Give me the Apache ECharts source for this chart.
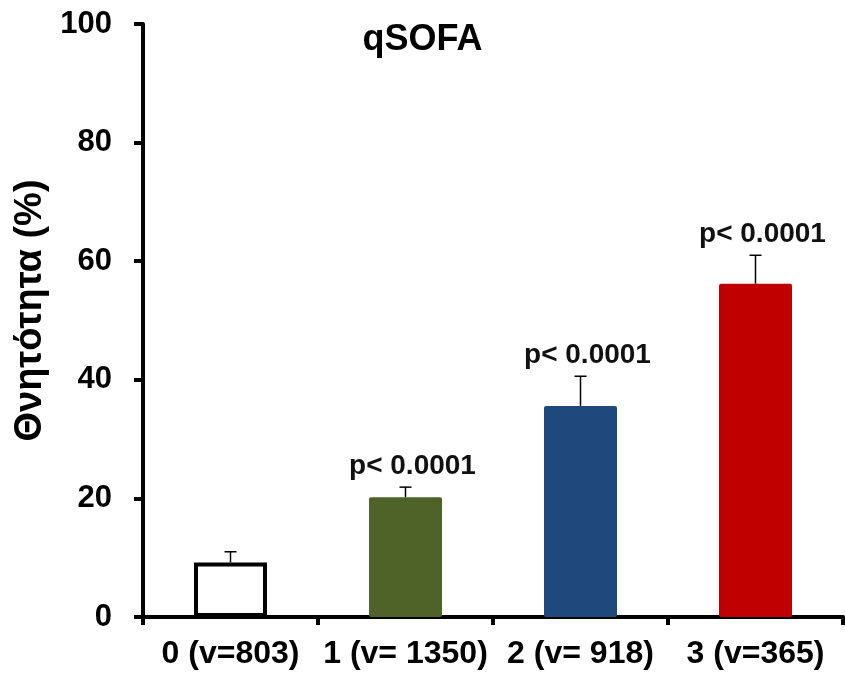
<!DOCTYPE html>
<html>
<head>
<meta charset="utf-8">
<script src="https://cdn.jsdelivr.net/npm/echarts@6/dist/echarts.min.js"></script>
<style>
html,body{margin:0;padding:0;background:#fff;}
#chart{width:845px;height:673px;}
</style>
</head>
<body>
<div id="chart"></div>
<script>
const categories = ['0 (v=803)', '1 (v= 1350)', '2 (v= 918)', '3 (v=365)'];
const mortality = [9.2, 20.2, 35.6, 56.2];
const errorUpper = [11.0, 21.9, 40.6, 61.0];
const pLabels = ['', 'p< 0.0001', 'p< 0.0001', 'p< 0.0001'];
const barColors = ['#FFFFFF', '#4F6228', '#1F497D', '#C00000'];
const titleText = 'qSOFA';
const yAxisName = 'Θνητότητα (%)';
const yMin = 0, yMax = 100, yStep = 20;

const FONT = '"Liberation Sans", Arial, sans-serif';
const chart = echarts.init(document.getElementById('chart'));

const barData = mortality.map((v, i) => ({
  value: v,
  itemStyle: {
    color: barColors[i],
    borderColor: i === 0 ? '#000' : barColors[i],
    borderWidth: i === 0 ? 4 : 0,
    borderRadius: i === 0 ? 0 : 2
  }
}));

const errData = mortality.map((v, i) => [i, v, errorUpper[i]]);

chart.setOption({
  animation: false,
  backgroundColor: '#fff',
  title: {
    text: titleText,
    left: 'center',
    top: 17,
    textStyle: { fontFamily: FONT, fontWeight: 'bold', fontSize: 36, color: '#000' }
  },
  grid: { left: 143, right: 2, top: 24, bottom: 56, containLabel: false },
  xAxis: {
    type: 'category',
    data: categories,
    boundaryGap: true,
    axisLine: { lineStyle: { color: '#000', width: 4 } },
    axisTick: { show: true, length: 8, lineStyle: { color: '#000', width: 4 } },
    axisLabel: { margin: 21, color: '#000', fontFamily: FONT, fontWeight: 'bold', fontSize: 32, interval: 0 }
  },
  yAxis: {
    type: 'value',
    min: yMin, max: yMax, interval: yStep,
    name: yAxisName,
    nameLocation: 'middle',
    nameGap: 88,
    nameTextStyle: { fontFamily: FONT, fontWeight: 'bold', fontSize: 38, color: '#000', padding: [0, 0, 0, 20] },
    axisLine: { show: true, lineStyle: { color: '#000', width: 4 } },
    axisTick: { show: true, length: 9, lineStyle: { color: '#000', width: 4 } },
    splitLine: { show: false },
    axisLabel: { margin: 31, color: '#000', fontFamily: FONT, fontWeight: 'bold', fontSize: 31 }
  },
  series: [
    {
      type: 'bar',
      data: barData,
      barWidth: 73,
      z: 2
    },
    {
      type: 'custom',
      data: errData,
      z: 5,
      renderItem: function (params, api) {
        const idx = api.value(0);
        const base = api.coord([idx, api.value(1)]);
        const top = api.coord([idx, api.value(2)]);
        const children = [
          { type: 'line', shape: { x1: base[0], y1: base[1], x2: top[0], y2: top[1] }, style: { stroke: '#000', lineWidth: 1.5 } },
          { type: 'line', shape: { x1: top[0] - 6, y1: top[1], x2: top[0] + 6, y2: top[1] }, style: { stroke: '#000', lineWidth: 1.5 } }
        ];
        const lbl = pLabels[params.dataIndex];
        if (lbl) {
          children.push({
            type: 'text',
            style: {
              text: lbl, x: top[0] + 7, y: top[1] - 7,
              align: 'center', verticalAlign: 'bottom',
              fontFamily: FONT, fontWeight: 'bold', fontSize: 28, fill: '#111'
            }
          });
        }
        return { type: 'group', children: children };
      }
    }
  ]
});
</script>
</body>
</html>
